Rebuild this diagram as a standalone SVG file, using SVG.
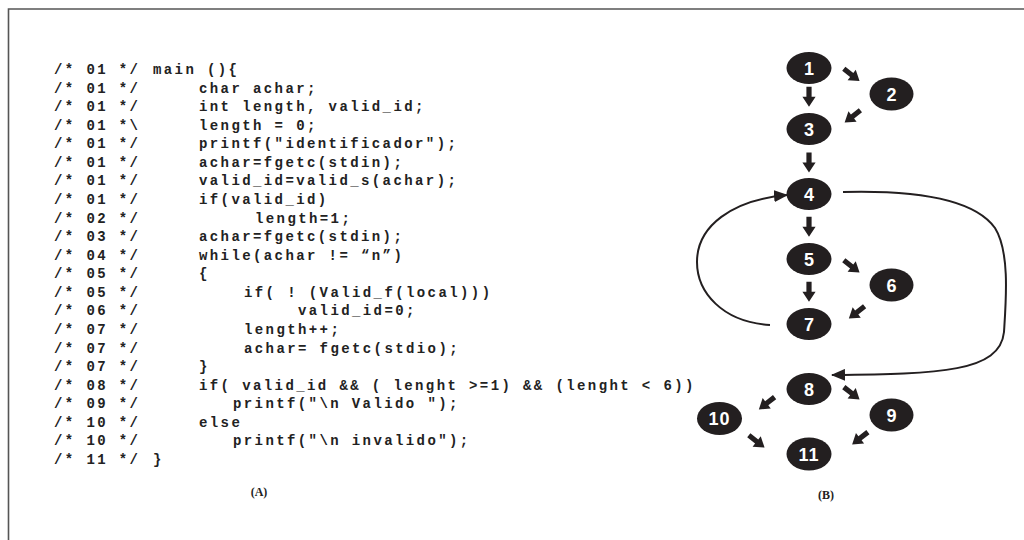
<svg xmlns="http://www.w3.org/2000/svg" xmlns:xlink="http://www.w3.org/1999/xlink" width="1024" height="540" viewBox="0 0 1024 540">
<style>
.code{font-family:"Liberation Mono","Courier New",monospace;font-weight:bold;font-size:14px;letter-spacing:2.4px;fill:#222;}
.num{font-family:"Liberation Sans",Arial,sans-serif;font-weight:bold;font-size:18px;fill:#fff;text-anchor:middle;}
.lbl{font-family:"Liberation Serif","Times New Roman",serif;font-weight:bold;font-size:12px;fill:#222;text-anchor:middle;}
.node{fill:#231f20;}
.curve{fill:none;stroke:#231f20;stroke-width:2;}
.frame{stroke:#555;stroke-width:1.6;fill:none;}
</style>
<defs>
<path id="blk" d="M0,-2.6 H10 V-6.6 L20,0 L10,6.6 V2.6 H0 Z" fill="#231f20"/>
<marker id="ah" viewBox="0 0 14 12" refX="13" refY="6" markerWidth="14" markerHeight="12" markerUnits="userSpaceOnUse" orient="auto">
<path d="M0,0 L14,6 L0,12 Z" fill="#231f20"/>
</marker>
</defs>
<rect width="1024" height="540" fill="#fff"/>
<path class="frame" d="M8.5,540 V9 H1024"/>
<g id="code">
<text class="code" x="54" y="74">/* 01 */</text><text class="code" x="153" y="74">main (){</text>
<text class="code" x="54" y="92.6">/* 01 */</text><text class="code" x="199" y="92.6">char achar;</text>
<text class="code" x="54" y="111.1">/* 01 */</text><text class="code" x="199" y="111.1">int length, valid_id;</text>
<text class="code" x="54" y="129.7">/* 01 *\</text><text class="code" x="199" y="129.7">length = 0;</text>
<text class="code" x="54" y="148.3">/* 01 */</text><text class="code" x="199" y="148.3">printf("identificador");</text>
<text class="code" x="54" y="166.9">/* 01 */</text><text class="code" x="199" y="166.9">achar=fgetc(stdin);</text>
<text class="code" x="54" y="185.4">/* 01 */</text><text class="code" x="199" y="185.4">valid_id=valid_s(achar);</text>
<text class="code" x="54" y="204">/* 01 */</text><text class="code" x="199" y="204">if(valid_id)</text>
<text class="code" x="54" y="222.6">/* 02 */</text><text class="code" x="255" y="222.6">length=1;</text>
<text class="code" x="54" y="241.1">/* 03 */</text><text class="code" x="199" y="241.1">achar=fgetc(stdin);</text>
<text class="code" x="54" y="259.7">/* 04 */</text><text class="code" x="199" y="259.7">while(achar != “n”)</text>
<text class="code" x="54" y="278.3">/* 05 */</text><text class="code" x="199" y="278.3">{</text>
<text class="code" x="54" y="296.8">/* 05 */</text><text class="code" x="244" y="296.8">if( ! (Valid_f(local)))</text>
<text class="code" x="54" y="315.4">/* 06 */</text><text class="code" x="298" y="315.4">valid_id=0;</text>
<text class="code" x="54" y="334">/* 07 */</text><text class="code" x="244" y="334">length++;</text>
<text class="code" x="54" y="352.6">/* 07 */</text><text class="code" x="244" y="352.6">achar= fgetc(stdio);</text>
<text class="code" x="54" y="371.1">/* 07 */</text><text class="code" x="199" y="371.1">}</text>
<text class="code" x="54" y="389.7">/* 08 */</text><text class="code" x="199" y="389.7">if( valid_id &amp;&amp; ( lenght &gt;=1) &amp;&amp; (lenght &lt; 6))</text>
<text class="code" x="54" y="408.3">/* 09 */</text><text class="code" x="233" y="408.3">printf("\n Valido ");</text>
<text class="code" x="54" y="426.8">/* 10 */</text><text class="code" x="199" y="426.8">else</text>
<text class="code" x="54" y="445.4">/* 10 */</text><text class="code" x="233" y="445.4">printf("\n invalido");</text>
<text class="code" x="54" y="464">/* 11 */</text><text class="code" x="153" y="464">}</text>
</g>
<text class="lbl" x="259" y="496">(A)</text>
<text class="lbl" x="826" y="499">(B)</text>
<g id="connectors">
<use xlink:href="#blk" transform="translate(809,86.7) rotate(90)"/>
<use xlink:href="#blk" transform="translate(809,152.5) rotate(90)"/>
<use xlink:href="#blk" transform="translate(809,216.7) rotate(90)"/>
<use xlink:href="#blk" transform="translate(809,281.7) rotate(90)"/>
<use xlink:href="#blk" transform="translate(843.8,68.8) rotate(38)"/>
<use xlink:href="#blk" transform="translate(860.4,110.3) rotate(142)"/>
<use xlink:href="#blk" transform="translate(843.8,260.3) rotate(38)"/>
<use xlink:href="#blk" transform="translate(864.6,306.3) rotate(142)"/>
<use xlink:href="#blk" transform="translate(843.8,387.1) rotate(38)"/>
<use xlink:href="#blk" transform="translate(774.6,397.1) rotate(142)"/>
<use xlink:href="#blk" transform="translate(748.8,435.3) rotate(38)"/>
<use xlink:href="#blk" transform="translate(867.9,432.1) rotate(142)"/>
<path class="curve" marker-end="url(#ah)" d="M770,325 C722,322 697,292 697,262 C697,226 732,200 787,195"/>
<path class="curve" marker-end="url(#ah)" d="M843,192 C920,190 975,200 995,228 C1010,252 1006,300 1004,332 C1000,372 940,374 832,375"/>
</g>
<g id="n1"><ellipse class="node" cx="809" cy="68" rx="22.5" ry="16"/><text class="num" x="809" y="74.5">1</text></g>
<g id="n2"><ellipse class="node" cx="891.5" cy="94" rx="22" ry="16.5"/><text class="num" x="891.5" y="100.5">2</text></g>
<g id="n3"><ellipse class="node" cx="809" cy="129" rx="22.5" ry="16"/><text class="num" x="809" y="135.5">3</text></g>
<g id="n4"><ellipse class="node" cx="809" cy="194" rx="22.5" ry="16"/><text class="num" x="809" y="200.5">4</text></g>
<g id="n5"><ellipse class="node" cx="809" cy="259" rx="22.5" ry="16"/><text class="num" x="809" y="265.5">5</text></g>
<g id="n6"><ellipse class="node" cx="891.5" cy="285" rx="22" ry="16.5"/><text class="num" x="891.5" y="291.5">6</text></g>
<g id="n7"><ellipse class="node" cx="809" cy="324" rx="22.5" ry="16"/><text class="num" x="809" y="330.5">7</text></g>
<g id="n8"><ellipse class="node" cx="809" cy="389" rx="22.5" ry="16"/><text class="num" x="809" y="395.5">8</text></g>
<g id="n9"><ellipse class="node" cx="891.5" cy="415" rx="22" ry="16.5"/><text class="num" x="891.5" y="421.5">9</text></g>
<g id="n10"><ellipse class="node" cx="719.5" cy="418.5" rx="22.5" ry="16.5"/><text class="num" x="719.5" y="425" letter-spacing="1">10</text></g>
<g id="n11"><ellipse class="node" cx="809" cy="454" rx="22.5" ry="16.5"/><text class="num" x="809" y="460.5" letter-spacing="1">11</text></g>
</svg>
